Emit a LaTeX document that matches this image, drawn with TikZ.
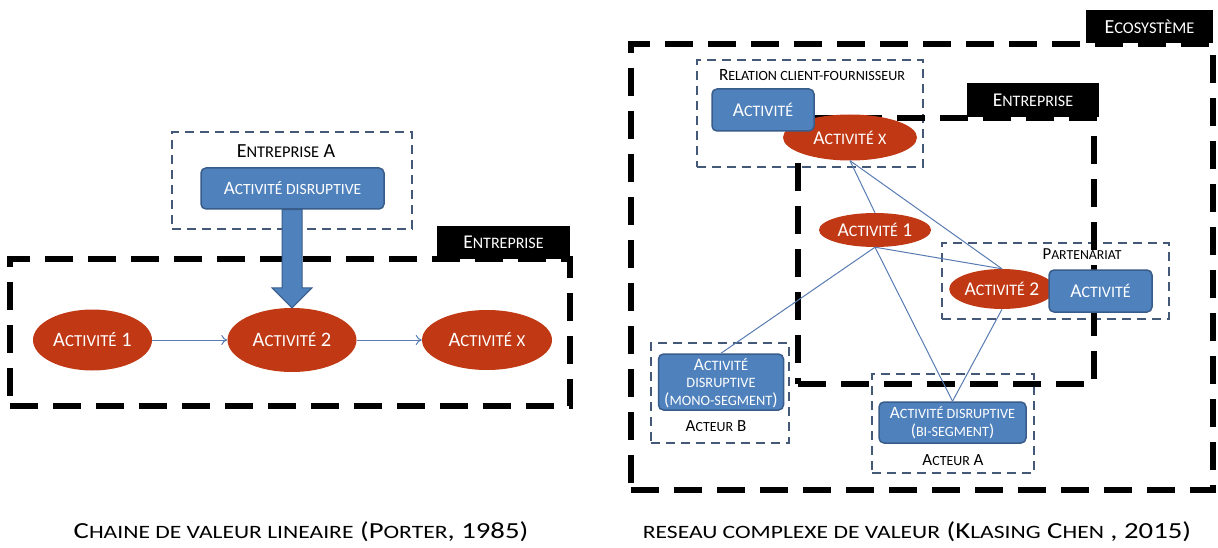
\documentclass[tikz,border=0pt]{standalone}
\usepackage{fontspec}
\usepackage{graphicx}
\setmainfont{Carlito}
\usetikzlibrary{shapes.geometric,calc,arrows.meta}
\makeatletter
\newcommand\lc[1]{{\fontsize{\fpeval{0.82*\f@size}}{\f@baselineskip}\selectfont\MakeUppercase{#1}}}
\makeatother
\newcommand\fz[1]{\fontsize{#1}{\fpeval{1.12*#1}}\selectfont}
\definecolor{redc}{RGB}{192,57,20}
\definecolor{bluef}{RGB}{79,129,189}
\definecolor{blued}{RGB}{56,93,138}
\definecolor{grayb}{RGB}{68,88,120}
\definecolor{linec}{RGB}{88,124,178}
\tikzset{
  ell/.style={ellipse, fill=redc, draw=none, text=white, inner sep=0pt},
  bbox/.style={rectangle, rounded corners=5pt, fill=bluef, draw=blued, line width=1.5pt, text=white, inner sep=0pt, align=center},
  dbox/.style={rectangle, draw=grayb, line width=2pt, dash pattern=on 9pt off 6pt, inner sep=0pt},
  bigdash/.style={rectangle, draw=black, line width=6pt, dash pattern=on 28pt off 15pt, inner sep=0pt},
  lbl/.style={rectangle, fill=black, text=white, inner sep=0pt},
  plain/.style={inner sep=0pt, text=black},
  thinline/.style={draw=linec, line width=1pt},
}
\begin{document}
\begin{tikzpicture}[x=1pt,y=-1pt]
\useasboundingbox[fill=white] (0,0) rectangle (1218,548);

% ---------- left diagram ----------
\node[bigdash, minimum width=560pt, minimum height=147pt] (ent1) at (290,332.5) {};
\node[lbl, minimum width=133pt, minimum height=33pt, font=\fz{19.5}] (ent1l) at (503.5,242.5) {E\lc{ntreprise}};
\node[dbox, minimum width=240pt, minimum height=97pt] (entA) at (292,180.5) {};
\node[plain, font=\fz{20}] (entAt) at (286,151) {E\lc{ntreprise} A};
\node[bbox, minimum width=183pt, minimum height=41pt, font=\fz{19}] (dis) at (292.5,188.5) {A\lc{ctivité disruptive}};
\node[ell, minimum width=119pt, minimum height=61pt, font=\fz{20.5}] (a1) at (92.5,340) {A\lc{ctivité} 1};
\node[ell, minimum width=129pt, minimum height=64pt, font=\fz{20.5}] (a2) at (292,340) {A\lc{ctivité} 2};
\node[ell, minimum width=130pt, minimum height=60pt, font=\fz{20.5}] (ax) at (487,340) {A\lc{ctivité} \lc{x}};
\draw[thinline, -{To[length=6pt,width=10pt]}] (a1) -- (a2);
\draw[thinline, -{To[length=6pt,width=10pt]}] (a2) -- (ax);
\fill[bluef, draw=blued, line width=1pt]
  ($(dis.south -| a2.north)+(-10,0)$) -- ($(a2.north)+(-10,-20)$) -- ($(a2.north)+(-20,-20)$)
  -- (a2.north) -- ($(a2.north)+(20,-20)$) -- ($(a2.north)+(10,-20)$)
  -- ($(dis.south -| a2.north)+(10,0)$) -- cycle;

% ---------- right diagram ----------
\node[bigdash, minimum width=582pt, minimum height=446pt] (eco) at (922,267) {};
\node[lbl, minimum width=127pt, minimum height=33pt, font=\fz{20}] (ecol) at (1149.5,26.5) {E\lc{cosystème}};
\node[dbox, minimum width=226pt, minimum height=107pt] (rel) at (810,113.5) {};
\node[plain, font=\fz{17.2}] (relt) at (812,75) {R\lc{elation client-fournisseur}};
\node[dbox, minimum width=227pt, minimum height=76pt] (part) at (1055.5,281) {};
\node[plain, font=\fz{16.8}] (partt) at (1082,254) {P\lc{artenariat}};
\node[dbox, minimum width=138pt, minimum height=100pt] (acB) at (719.5,393) {};
\node[dbox, minimum width=162pt, minimum height=99pt] (acA) at (953,423.5) {};
\node[plain, font=\fz{17}] (acBt) at (716,426) {A\lc{cteur} B};
\node[plain, font=\fz{17}] (acAt) at (953,460) {A\lc{cteur} A};
\node[bigdash, minimum width=296pt, minimum height=266pt] (ent2) at (946,251) {};
\node[lbl, minimum width=132pt, minimum height=34pt, font=\fz{19.5}] (ent2l) at (1033,100) {E\lc{ntreprise}};

\node[ell, minimum width=134pt, minimum height=46pt, font=\fz{19.5}] (rx) at (850,137.5) {A\lc{ctivité} \lc{x}};
\node[bbox, minimum width=102pt, minimum height=42pt, font=\fz{19.5}] (rc) at (763,110) {A\lc{ctivité}};
\node[ell, minimum width=112pt, minimum height=34pt, font=\fz{19.5}] (r1) at (875,230) {A\lc{ctivité} 1};
\node[ell, minimum width=100pt, minimum height=40pt, font=\fz{19.5}] (r2) at (1002,289) {A\lc{ctivité} 2};
\node[bbox, minimum width=103pt, minimum height=42pt, font=\fz{19.5}] (rp) at (1100.5,291) {A\lc{ctivité}};
\node[bbox, minimum width=125pt, minimum height=56pt, font=\fz{17.5}, text depth=0pt] (mono) at (721,382) {A\lc{ctivité}\\[-2pt]\lc{disruptive}\\[-2pt](\lc{mono-segment})};
\node[bbox, minimum width=147pt, minimum height=41pt, font=\fz{17.3}] (bi) at (952.5,422.5) {A\lc{ctivité disruptive}\\[-1pt](\lc{bi-segment})};

\draw[thinline] (rx.south) -- (r1.north);
\draw[thinline] (rx.south) -- (r2.north);
\draw[thinline] (r1.south) -- (r2.north);
\draw[thinline] (r1.south) -- (mono.north);
\draw[thinline] (r1.south) -- (bi.north);
\draw[thinline] (r2.south) -- (bi.north);

% ---------- captions ----------
\node[plain, font=\fz{23}] (cap1) at (301,532) {\scalebox{1.25}[1]{C\lc{haine de valeur lineaire} (P\lc{orter}, 1985)}};
\node[plain, font=\fz{23}] (cap2) at (917,532) {\scalebox{1.25}[1]{\lc{reseau complexe de valeur} (K\lc{lasing} C\lc{hen} , 2015)}};
\end{tikzpicture}
\end{document}
